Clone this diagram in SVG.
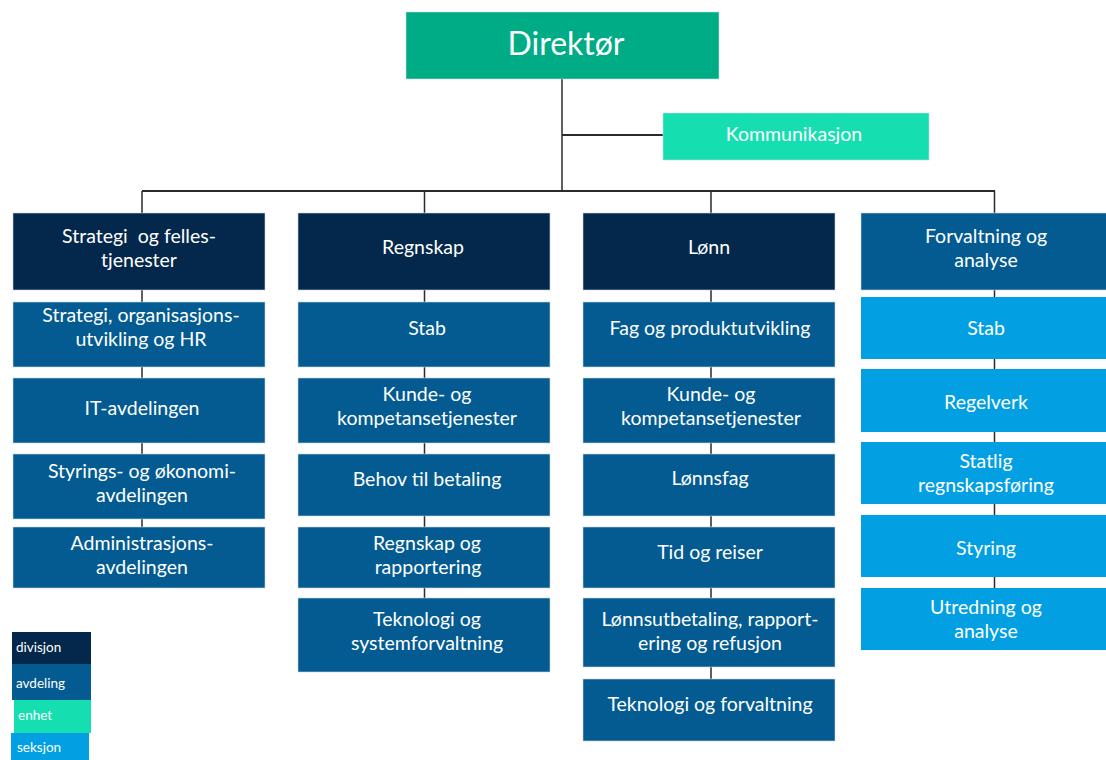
<svg xmlns="http://www.w3.org/2000/svg" width="1106" height="760" viewBox="0 0 1106 760">
<style>
text{font-family:Lato,"Open Sans","Liberation Sans",sans-serif;fill:#fff;text-anchor:middle;font-size:19.5px}
.dir{fill:#00ac85}
.enh{fill:#15dfb0}
.div{fill:#04284c}
.avd{fill:#035b91}
.sek{fill:#02a0e3}
.box{stroke:#c9d6e2;stroke-width:0.6}
.c{stroke:#2b2b2b;stroke-width:1.5;fill:none}
.leg{text-anchor:start;font-size:13.5px}
</style>
<rect width="1106" height="760" fill="#fff"/>
<g id="connectors">
<line class="c" x1="562" y1="79" x2="562" y2="191"/>
<line class="c" x1="562" y1="135" x2="663" y2="135" style="stroke-width:2"/>
<line class="c" x1="142" y1="191" x2="995" y2="191" style="stroke-width:2.2"/>
<path class="c" d="M142 191V213M142 290V302M142 367V378M142 443V454M142 519V527"/>
<path class="c" d="M424.5 191V213M424.5 290V302M424.5 367V378M424.5 443V454M424.5 516V527M424.5 588V598"/>
<path class="c" d="M711 191V213M711 290V302M711 367V378M711 443V454M711 516V527M711 588V598M711 667V679"/>
<path class="c" d="M994.5 191V213M994.5 290V297M994.5 359V369M994.5 432V442M994.5 504V515M994.5 577V588"/>
</g>
<g id="direktor"><rect class="dir box" x="406" y="12" width="313" height="67"/><text x="566" y="55" style="font-size:32px">Direktør</text></g>
<g id="kommunikasjon"><rect class="enh box" x="663" y="113" width="266" height="47"/><text x="794" y="141">Kommunikasjon</text></g>

<g id="strategi-felles"><rect class="div box" x="13" y="213" width="252" height="77"/><text x="139" y="243">Strategi&#160; og felles-</text><text x="139" y="267">tjenester</text></g>
<g id="regnskap"><rect class="div box" x="298" y="213" width="252" height="77"/><text x="423" y="254">Regnskap</text></g>
<g id="lonn"><rect class="div box" x="583" y="213" width="252" height="77"/><text x="709" y="254">Lønn</text></g>
<g id="forvaltning"><rect class="avd box" x="861" y="213" width="252" height="77"/><text x="986" y="243">Forvaltning og</text><text x="986" y="267">analyse</text></g>

<g id="c1-strategi"><rect class="avd box" x="13" y="302" width="252" height="65"/><text x="141" y="322">Strategi, organisasjons-</text><text x="141" y="346">utvikling og HR</text></g>
<g id="c1-it"><rect class="avd box" x="13" y="378" width="252" height="65"/><text x="142" y="415">IT-avdelingen</text></g>
<g id="c1-styring"><rect class="avd box" x="13" y="454" width="252" height="65"/><text x="142" y="478">Styrings- og økonomi-</text><text x="142" y="502">avdelingen</text></g>
<g id="c1-admin"><rect class="avd box" x="13" y="527" width="252" height="61"/><text x="142" y="550">Administrasjons-</text><text x="142" y="574">avdelingen</text></g>

<g id="c2-stab"><rect class="avd box" x="298" y="302" width="252" height="65"/><text x="427" y="335">Stab</text></g>
<g id="c2-kunde"><rect class="avd box" x="298" y="378" width="252" height="65"/><text x="427" y="401">Kunde- og</text><text x="427" y="425">kompetansetjenester</text></g>
<g id="c2-behov"><rect class="avd box" x="298" y="454" width="252" height="62"/><text x="427" y="486">Behov til betaling</text></g>
<g id="c2-regnskap"><rect class="avd box" x="298" y="527" width="252" height="61"/><text x="427" y="550">Regnskap og</text><text x="428" y="574">rapportering</text></g>
<g id="c2-teknologi"><rect class="avd box" x="298" y="598" width="252" height="74"/><text x="427" y="626">Teknologi og</text><text x="427" y="650">systemforvaltning</text></g>

<g id="c3-fag"><rect class="avd box" x="583" y="302" width="252" height="65"/><text x="710" y="335">Fag og produktutvikling</text></g>
<g id="c3-kunde"><rect class="avd box" x="583" y="378" width="252" height="65"/><text x="711" y="401">Kunde- og</text><text x="711" y="425">kompetansetjenester</text></g>
<g id="c3-lonnsfag"><rect class="avd box" x="583" y="454" width="252" height="62"/><text x="710" y="485">Lønnsfag</text></g>
<g id="c3-tid"><rect class="avd box" x="583" y="527" width="252" height="61"/><text x="710" y="559">Tid og reiser</text></g>
<g id="c3-lonnsutbetaling"><rect class="avd box" x="583" y="598" width="252" height="69"/><text x="710" y="626">Lønnsutbetaling, rapport-</text><text x="710" y="650">ering og refusjon</text></g>
<g id="c3-teknologi"><rect class="avd box" x="583" y="679" width="252" height="62"/><text x="710" y="711">Teknologi og forvaltning</text></g>

<g id="c4-stab"><rect class="sek" x="861" y="297" width="252" height="62"/><text x="986" y="335">Stab</text></g>
<g id="c4-regelverk"><rect class="sek" x="861" y="369" width="252" height="63"/><text x="986" y="409">Regelverk</text></g>
<g id="c4-statlig"><rect class="sek" x="861" y="442" width="252" height="62"/><text x="986" y="468">Statlig</text><text x="986" y="492">regnskapsføring</text></g>
<g id="c4-styring"><rect class="sek" x="861" y="515" width="252" height="62"/><text x="986" y="555">Styring</text></g>
<g id="c4-utredning"><rect class="sek" x="861" y="588" width="252" height="62"/><text x="986" y="614">Utredning og</text><text x="986" y="638">analyse</text></g>

<g id="legend">
<rect class="div" x="12" y="632" width="79" height="32"/><text class="leg" x="16" y="652">divisjon</text>
<rect class="avd" x="12" y="664" width="79" height="36"/><text class="leg" x="16" y="688">avdeling</text>
<rect class="enh" x="14" y="700" width="77" height="33"/><text class="leg" x="18" y="720">enhet</text>
<rect class="sek" x="11" y="733" width="78" height="27"/><text class="leg" x="17" y="752">seksjon</text>
</g>
</svg>
